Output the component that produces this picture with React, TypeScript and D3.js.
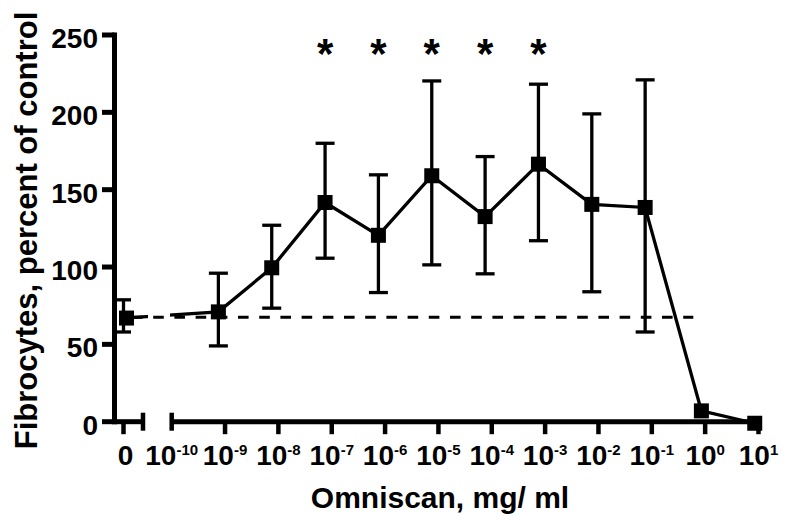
import React, { useEffect, useRef } from 'react';
import * as d3 from 'd3';

// tick exponents on the log part of the x axis (10^-10 ... 10^1)
const tickExponents = [-10, -9, -8, -7, -6, -5, -4, -3, -2, -1, 0, 1];
const yTicks = [0, 50, 100, 150, 200, 250];

// control (no Omniscan)
const controlMean = 67;
const controlUpper = 78.8;
const controlLower = 58;
const controlLine = 67.5;

// Omniscan doses, mg/ml
const concentrations = [7.5e-10, 7.5e-9, 7.5e-8, 7.5e-7, 7.5e-6, 7.5e-5, 7.5e-4, 7.5e-3, 7.5e-2, 8.5e-1, 8.5];
const means = [71, 99.5, 141.7, 120.5, 159, 132.6, 166.5, 140.5, 138.5, 7, -1];
const upper = [96, 127, 180, 159.6, 220.3, 171.4, 218.2, 199, 221, null, null];
const lower = [49, 73.4, 105.7, 83.5, 101.4, 95.6, 117, 84, 58, null, null];
const significant = [false, false, true, true, true, true, true, false, false, false, false];

const FONT = '"Liberation Sans", Arial, Helvetica, sans-serif';

function FibrocyteChart() {
  const svgRef = useRef<SVGSVGElement>(null);

  useEffect(() => {
    if (!svgRef.current) return;
    const width = 785;
    const height = 516;

    const svg = d3.select(svgRef.current);
    svg.selectAll('*').remove();
    svg.attr('width', width).attr('height', height).attr('viewBox', `0 0 ${width} ${height}`);

    svg.append('rect').attr('width', width).attr('height', height).attr('fill', 'white');

    const y = d3.scaleLinear().domain([0, 250]).range([421.7, 35]);
    const x = d3.scaleLog().domain([1e-10, 10]).range([171.7, 758.5]);
    const zeroX = 123.5;
    const axisX = 114.5;
    const axisY = y(0);
    const gapLeft = 143;

    const g = svg.append('g');

    // dashed control level
    g.append('line')
      .attr('x1', 132)
      .attr('x2', x(0.6))
      .attr('y1', y(controlLine))
      .attr('y2', y(controlLine))
      .attr('stroke', 'black')
      .attr('stroke-width', 3)
      .attr('stroke-dasharray', '10.6,10.6');

    // y axis
    g.append('line')
      .attr('x1', axisX).attr('x2', axisX)
      .attr('y1', y(250) - 2.5).attr('y2', axisY + 2.5)
      .attr('stroke', 'black').attr('stroke-width', 5);

    yTicks.forEach(v => {
      g.append('line')
        .attr('x1', 102).attr('x2', axisX)
        .attr('y1', y(v)).attr('y2', y(v))
        .attr('stroke', 'black').attr('stroke-width', 5);
      g.append('text')
        .attr('x', 98)
        .attr('y', y(v) + 13)
        .attr('text-anchor', 'end')
        .attr('font-family', FONT)
        .attr('font-weight', 'bold')
        .attr('font-size', 28)
        .text(v);
    });

    // x axis: control segment
    g.append('line')
      .attr('x1', axisX).attr('x2', gapLeft)
      .attr('y1', axisY).attr('y2', axisY)
      .attr('stroke', 'black').attr('stroke-width', 5);
    g.append('line')
      .attr('x1', gapLeft).attr('x2', gapLeft)
      .attr('y1', axisY - 9).attr('y2', axisY + 9)
      .attr('stroke', 'black').attr('stroke-width', 4.5);
    g.append('line')
      .attr('x1', zeroX).attr('x2', zeroX)
      .attr('y1', axisY).attr('y2', axisY + 12.5)
      .attr('stroke', 'black').attr('stroke-width', 4.5);

    // x axis: log segment
    g.append('line')
      .attr('x1', x(1e-10)).attr('x2', x(10))
      .attr('y1', axisY).attr('y2', axisY)
      .attr('stroke', 'black').attr('stroke-width', 5);
    g.append('line')
      .attr('x1', x(1e-10)).attr('x2', x(1e-10))
      .attr('y1', axisY - 9).attr('y2', axisY + 9)
      .attr('stroke', 'black').attr('stroke-width', 4.5);
    tickExponents.slice(1).forEach(k => {
      g.append('line')
        .attr('x1', x(Math.pow(10, k))).attr('x2', x(Math.pow(10, k)))
        .attr('y1', axisY).attr('y2', axisY + 12.5)
        .attr('stroke', 'black').attr('stroke-width', 4.5);
    });

    // x tick labels
    const labelY = 465;
    g.append('text')
      .attr('x', zeroX + 2)
      .attr('y', labelY)
      .attr('text-anchor', 'middle')
      .attr('font-family', FONT)
      .attr('font-weight', 'bold')
      .attr('font-size', 28)
      .text('0');
    tickExponents.forEach(k => {
      const t = g.append('text')
        .attr('x', x(Math.pow(10, k)))
        .attr('y', labelY)
        .attr('text-anchor', 'middle')
        .attr('font-family', FONT)
        .attr('font-weight', 'bold')
        .attr('font-size', 28);
      t.append('tspan').text('10');
      t.append('tspan').attr('dy', -10).attr('font-size', 15).text(k < 0 ? `-${-k}` : `${k}`);
    });

    // connecting line, broken at the axis gap
    const clipId = 'gap-clip';
    const clip = svg.append('defs').append('clipPath').attr('id', clipId);
    clip.append('rect').attr('x', 0).attr('y', 0).attr('width', 148).attr('height', height);
    clip.append('rect').attr('x', 170).attr('y', 0).attr('width', width - 170).attr('height', height);

    const pts: [number, number][] = [[zeroX, y(controlMean)]].concat(
      concentrations.map((c, i) => [x(c), y(means[i])] as [number, number])
    ) as [number, number][];

    g.append('path')
      .attr('d', d3.line()(pts))
      .attr('fill', 'none')
      .attr('stroke', 'black')
      .attr('stroke-width', 3.3)
      .attr('clip-path', `url(#${clipId})`);

    // error bars
    const errorBar = (cx: number, hi: number, lo: number, cap: number) => {
      g.append('line')
        .attr('x1', cx).attr('x2', cx)
        .attr('y1', y(hi)).attr('y2', y(lo))
        .attr('stroke', 'black').attr('stroke-width', 3.3);
      [hi, lo].forEach(v => {
        g.append('line')
          .attr('x1', cx - cap / 2).attr('x2', cx + cap / 2)
          .attr('y1', y(v)).attr('y2', y(v))
          .attr('stroke', 'black').attr('stroke-width', 3.3);
      });
    };
    errorBar(zeroX, controlUpper, controlLower, 15);
    concentrations.forEach((c, i) => {
      const hi = upper[i];
      const lo = lower[i];
      if (hi != null && lo != null) errorBar(x(c), hi, lo, 19);
    });

    // square markers
    const size = 15;
    g.append('rect')
      .attr('x', zeroX + 3 - size / 2)
      .attr('y', y(controlMean) - size / 2)
      .attr('width', size).attr('height', size)
      .attr('fill', 'black');
    g.selectAll('rect.pt')
      .data(concentrations)
      .enter()
      .append('rect')
      .attr('class', 'pt')
      .attr('x', c => x(c) - size / 2)
      .attr('y', (c, i) => y(means[i]) - size / 2)
      .attr('width', size)
      .attr('height', size)
      .attr('fill', 'black');

    // significance asterisks
    concentrations.forEach((c, i) => {
      if (!significant[i]) return;
      g.append('text')
        .attr('x', x(c))
        .attr('y', 68)
        .attr('text-anchor', 'middle')
        .attr('font-family', FONT)
        .attr('font-weight', 'bold')
        .attr('font-size', 42)
        .text('*');
    });

    // axis titles
    g.append('text')
      .attr('x', 440)
      .attr('y', 508)
      .attr('text-anchor', 'middle')
      .attr('font-family', FONT)
      .attr('font-weight', 'bold')
      .attr('font-size', 30)
      .text('Omniscan, mg/ ml');

    g.append('text')
      .attr('transform', 'translate(37, 230.5) rotate(-90)')
      .attr('text-anchor', 'middle')
      .attr('font-family', FONT)
      .attr('font-weight', 'bold')
      .attr('font-size', 31)
      .text('Fibrocytes, percent of control');
  }, []);

  return <svg ref={svgRef} style={{ position: 'fixed', left: 0, top: 0 }}></svg>;
}

export default function App() {
  return (
    <div>
      <FibrocyteChart />
    </div>
  );
}
